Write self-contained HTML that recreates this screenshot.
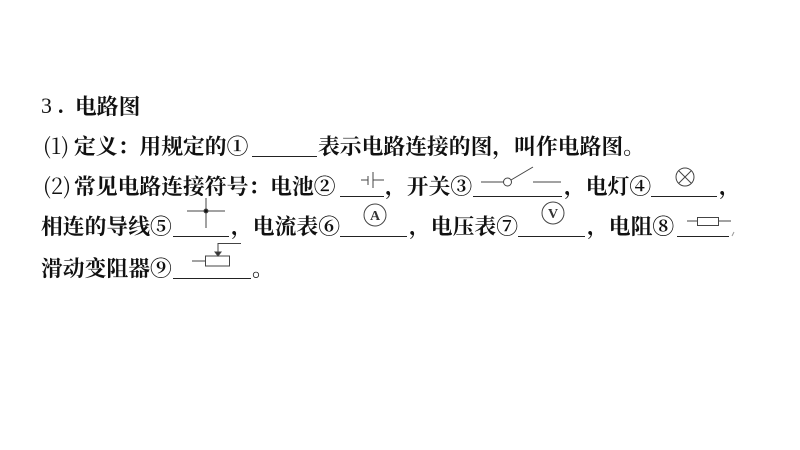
<!DOCTYPE html>
<html lang="zh"><head><meta charset="utf-8">
<style>
html,body{margin:0;padding:0;background:#fff}
#p{position:relative;width:800px;height:450px;overflow:hidden;background:#fff}
#p span{position:absolute;white-space:pre;font:700 21.8px/26px "Noto Serif CJK SC","Liberation Serif",serif;color:#111}
#p i{position:absolute;height:1.4px;background:#222}
svg{position:absolute;left:0;top:0}
</style></head><body><div id="p">
<span style="left:41px;top:93px;font-family:'Liberation Serif',serif;font-weight:400">3</span><span style="left:58px;top:93px;font-family:'Liberation Serif',serif">.</span><span style="left:75px;top:93px">电路图</span>
<span style="left:43px;top:133px;font-weight:400">(1)</span><span style="left:74px;top:133px">定义：用规定的①</span><i style="left:252px;top:156px;width:65px"></i><span style="left:318px;top:133px">表示电路连接的图，叫作电路图。</span>
<span style="left:43px;top:173px;font-weight:400">(2)</span><span style="left:74px;top:173px">常见电路连接符号：电池②</span><i style="left:340px;top:196px;width:44px"></i><span style="left:385px;top:173px">，开关③</span><i style="left:473px;top:196px;width:89px"></i><span style="left:564px;top:173px">，电灯④</span><i style="left:651px;top:196px;width:66px"></i><span style="left:719px;top:173px">，</span>
<span style="left:41px;top:213px">相连的导线⑤</span><i style="left:173px;top:236px;width:56px"></i><span style="left:231px;top:213px">，电流表⑥</span><i style="left:340px;top:236px;width:67px"></i><span style="left:409px;top:213px">，电压表⑦</span><i style="left:518px;top:236px;width:67px"></i><span style="left:587px;top:213px">，电阻⑧</span><i style="left:677px;top:236px;width:52px"></i>
<span style="left:41px;top:255px">滑动变阻器⑨</span><i style="left:173px;top:278px;width:78px"></i><span style="left:252px;top:255px">。</span>
<svg width="800" height="450" fill="none" stroke="#444" stroke-width="1">
<path d="M361 180H368M368 176V185M373 172V188M373 180H384"/>
<path d="M481 182H504M511 180L533 167M533 182H561"/><circle cx="507.500" cy="182" r="4"/>
<circle cx="685" cy="177" r="9"/><path d="M679 171L691 183M691 171L679 183"/>
<path d="M187 211H225M206 198V228"/><circle cx="206" cy="211" r="2" fill="#111"/>
<circle cx="375" cy="215" r="11"/><text x="375" y="220" font-family="Liberation Serif" font-size="14" font-weight="700" text-anchor="middle" fill="#333" stroke="none">A</text>
<circle cx="553" cy="213" r="11"/><text x="553" y="218" font-family="Liberation Serif" font-size="14" font-weight="700" text-anchor="middle" fill="#333" stroke="none">V</text>
<path d="M687 221H697M718 221H731"/><rect x="697.500" y="217.500" width="21" height="8"/>
<path d="M732 236L734 232" stroke="#999"/>
<path d="M192 261H205M241 243.500H218V255"/><rect x="205.500" y="256" width="24" height="10"/><path d="M215 252L218 256L221 252Z" fill="#333"/>
</svg>
</div></body></html>
